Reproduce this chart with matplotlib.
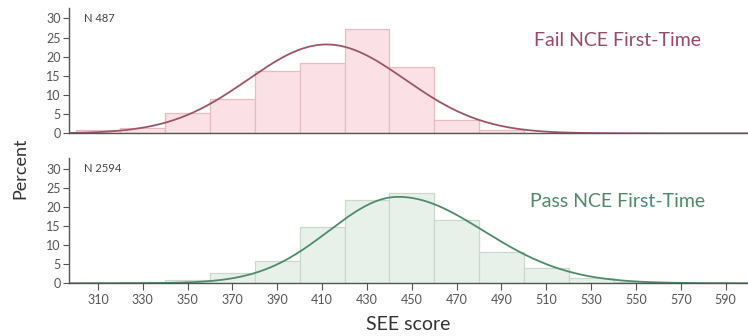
import numpy as np
import matplotlib
matplotlib.use("Agg")
import matplotlib.pyplot as plt

plt.rcParams['font.family'] = ['Lato', 'DejaVu Sans']

# bins of 20 points, left edges
bin_edges = [300, 320, 340, 360, 380, 400, 420, 440, 460, 480, 500, 520, 540, 560]
fail_pct = [1.0, 1.5, 5.4, 9.0, 16.2, 18.3, 27.2, 17.3, 3.5, 0.8, 0, 0, 0]
pass_pct = [0.1, 0.3, 0.8, 2.8, 5.8, 14.8, 21.9, 23.5, 16.5, 8.1, 3.9, 1.5, 0.3]

# fitted curves (peak height, centre, left/right spread)
fail_fit = dict(peak=23.2, mu=412, sd_left=35, sd_right=35)
pass_fit = dict(peak=22.6, mu=444, sd_left=31, sd_right=38)

fail_n = "N 487"
pass_n = "N 2594"
xticks = list(range(310, 600, 20))
yticks = [0, 5, 10, 15, 20, 25, 30]

panels = [
    (fail_pct, fail_fit, fail_n, "Fail NCE First-Time", "#fbe1e5", "#e8bcc4", "#9c5667", "#9a4a62", 0.745),
    (pass_pct, pass_fit, pass_n, "Pass NCE First-Time", "#e8f0ea", "#cad9ce", "#4f8b68", "#4e8a6c", 0.655),
]

fig = plt.figure(figsize=(7.48, 3.36), dpi=100)
ax_rects = [[0.092, 0.603, 0.908, 0.373], [0.092, 0.157, 0.908, 0.372]]


def fit_curve(x, peak, mu, sd_left, sd_right):
    sd = np.where(x < mu, sd_left, sd_right)
    return peak * np.exp(-0.5 * ((x - mu) / sd) ** 2)


for i, (pct, fit, ntext, title, fc, ec, lc, tc, ty) in enumerate(panels):
    ax = fig.add_axes(ax_rects[i])
    ax.bar(bin_edges[:-1], pct, width=20, align='edge', color=fc, edgecolor=ec, linewidth=0.9)
    xs = np.linspace(297, 600, 400)
    ax.plot(xs, fit_curve(xs, **fit), color=lc, linewidth=1.3)
    ax.set_xlim(297, 600)
    ax.set_ylim(0, 32.7)
    ax.set_yticks(yticks)
    for s in ['top', 'right']:
        ax.spines[s].set_visible(False)
    for s in ['left', 'bottom']:
        ax.spines[s].set_color('#555555')
        ax.spines[s].set_linewidth(1.0)
    ax.tick_params(axis='y', labelsize=9, colors='#555555', length=4, pad=2)
    ax.text(0.022, 0.92, ntext, transform=ax.transAxes, fontsize=8, color='#444444', va='center', ha='left')
    ax.text(0.808, ty, title, transform=ax.transAxes, fontsize=14, color=tc, va='center', ha='center')
    if i == 0:
        ax.set_xticks([])
    else:
        ax.set_xticks(xticks)
        ax.tick_params(axis='x', labelsize=9, colors='#555555', length=5, pad=3)
        ax.set_xlabel("SEE score", fontsize=14, color='#333333', labelpad=7)

fig.text(0.027, 0.5, "Percent", rotation=90, fontsize=13, color='#333333', va='center', ha='center')

fig.savefig("out.png", dpi=100, facecolor='white')
